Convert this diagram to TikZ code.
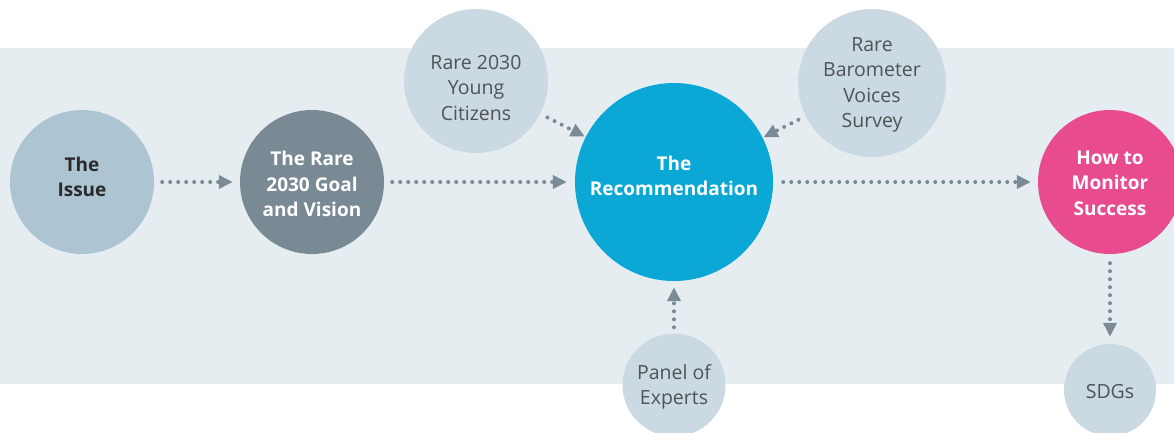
\documentclass[tikz,border=0pt]{standalone}
\usepackage{fontspec}
\setmainfont{Open Sans}
\usetikzlibrary{arrows.meta}
\definecolor{bandc}{HTML}{E5EDF1}
\definecolor{issuec}{HTML}{ADC5D2}
\definecolor{goalc}{HTML}{798A94}
\definecolor{recc}{HTML}{0BA8D5}
\definecolor{pinkc}{HTML}{E84C8F}
\definecolor{lightc}{HTML}{CBD9E2}
\definecolor{arrowc}{HTML}{7A8B95}
\definecolor{darktext}{HTML}{2A2A2A}
\definecolor{greytext}{HTML}{4F5356}
\begin{document}
\begin{tikzpicture}[x=1pt,y=-1pt,
  disc/.style={circle,inner sep=0pt,draw=none},
  plaintext/.style={inner sep=0pt,align=center,text=greytext,font=\fontsize{19.5}{25.5}\selectfont},
  keytext/.style={inner sep=0pt,align=center,font=\fontsize{19}{25.5}\selectfont\bfseries},
  flow/.style={draw=arrowc,line width=4pt,line cap=round,dash pattern=on 0pt off 8pt,
    -{Triangle[length=14pt,width=13pt,fill=arrowc]}}
]
\clip (0,0) rectangle (1174,432);
\fill[white] (0,0) rectangle (1174,432);
\fill[bandc] (0,48) rectangle (1174,384);

\node[disc,fill=issuec,minimum size=144pt] (issue) at (82,182) {};
\node[disc,fill=goalc,minimum size=144pt] (goal) at (312,182) {};
\node[disc,fill=recc,minimum size=198pt] (rec) at (674,182) {};
\node[disc,fill=pinkc,minimum size=144pt] (mon) at (1110,182) {};
\node[disc,fill=lightc,minimum size=144pt] (young) at (476,81) {};
\node[disc,fill=lightc,minimum size=148pt] (baro) at (872,83) {};
\node[disc,fill=lightc,minimum size=103pt] (panel) at (674,385) {};
\node[disc,fill=lightc,minimum size=92pt] (sdg) at (1110,390) {};

\node[keytext,text=darktext] (issuet) at (82,177) {The\\Issue};
\node[keytext,text=white] (goalt) at (312,184) {The Rare\\2030 Goal\\and Vision};
\node[keytext,text=white] (rect) at (674,176) {The\\Recommendation};
\node[keytext,text=white] (mont) at (1110,183) {How to\\Monitor\\Success};
\node[plaintext] (youngt) at (476,88) {Rare 2030\\Young\\Citizens};
\node[plaintext] (barot) at (872,85) {Rare\\Barometer\\Voices\\Survey};
\node[plaintext] (panelt) at (674,387) {Panel of\\Experts};
\node[plaintext] (sdgt) at (1110,392) {SDGs};

\draw[flow,shorten <=8pt,shorten >=7pt] (issue) -- (goal);
\draw[flow,shorten <=8pt,shorten >=8pt] (goal) -- (rec);
\draw[flow,shorten <=10pt,shorten >=7pt] (rec) -- (mon);
\draw[flow,shorten <=8pt,shorten >=1pt] (young) -- (rec);
\draw[flow,shorten <=8pt,shorten >=1pt] (baro) -- (rec);
\draw[flow,shorten <=6pt,shorten >=6pt] (panel) -- (rec);
\draw[flow,shorten <=9pt,shorten >=7pt] (mon) -- (sdg);
\end{tikzpicture}
\end{document}
